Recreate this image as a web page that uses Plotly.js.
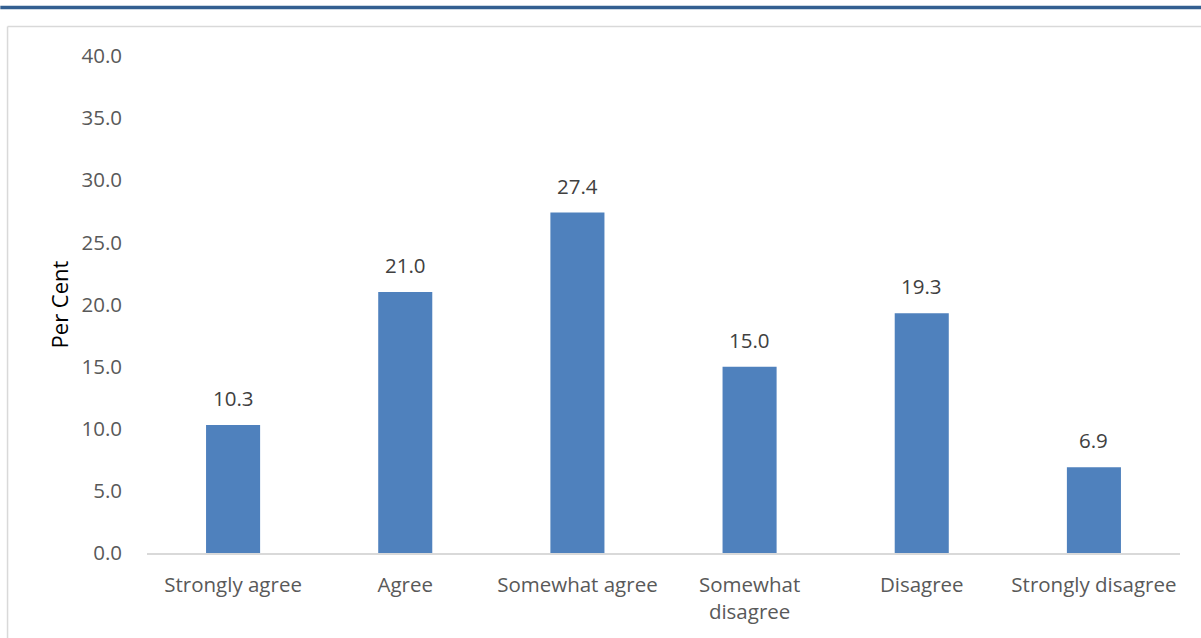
<!DOCTYPE html>
<html>
<head>
<meta charset="utf-8">
<script src="https://cdn.plot.ly/plotly-3.0.1.min.js"></script>
<style>
html,body{margin:0;padding:0;background:#fff;}
#chart{width:1201px;height:638px;}
</style>
</head>
<body>
<div id="chart"></div>
<script>
const categories = ["Strongly agree", "Agree", "Somewhat agree", "Somewhat<br>disagree", "Disagree", "Strongly disagree"];
const values = [10.3, 21.0, 27.4, 15.0, 19.3, 6.9];
const yTickVals = [0, 5, 10, 15, 20, 25, 30, 35, 40];
const yTickText = ["0.0", "5.0", "10.0", "15.0", "20.0", "25.0", "30.0", "35.0", "40.0"];

const FONT = "Open Sans, Noto Sans, sans-serif";

const trace = {
  type: "bar",
  x: categories,
  y: values,
  marker: {color: "#4f81bd"},
  hoverinfo: "skip"
};

const annotations = categories.map((c, i) => ({
  x: c, y: values[i], xref: "x", yref: "y",
  text: values[i].toFixed(1),
  showarrow: false, yanchor: "bottom", yshift: 11,
  font: {family: FONT, size: 20.5, color: "#404040"}
}));

const layout = {
  width: 1201, height: 638,
  margin: {l: 147, r: 21, t: 56, b: 84.5},
  paper_bgcolor: "#ffffff",
  plot_bgcolor: "#ffffff",
  showlegend: false,
  bargap: 0.686,
  xaxis: {
    type: "category",
    showgrid: false,
    showline: true, linecolor: "#d9d9d9", linewidth: 1.5,
    ticks: "", ticklabelstandoff: 13,
    tickfont: {family: FONT, size: 20.5, color: "#595959"},
    fixedrange: true
  },
  yaxis: {
    range: [0, 40],
    tickvals: yTickVals, ticktext: yTickText,
    showgrid: false, zeroline: false, showline: false,
    ticks: "", ticklabelstandoff: 24,
    tickfont: {family: FONT, size: 20.5, color: "#595959"},
    title: {text: "Per Cent", standoff: 6, font: {family: FONT, size: 22, color: "#000000"}},
    fixedrange: true
  },
  annotations: annotations,
  shapes: [
    {type: "line", xref: "paper", yref: "paper",
     x0: -0.142, x1: 1.03, y0: 1.0975, y1: 1.0975,
     line: {color: "#335f91", width: 3.5}},
    {type: "line", xref: "paper", yref: "paper",
     x0: -0.135, x1: 1.03, y0: 1.0593, y1: 1.0593,
     line: {color: "#d9d9d9", width: 1.5}},
    {type: "line", xref: "paper", yref: "paper",
     x0: -0.135, x1: -0.135, y0: 1.0593, y1: -0.3,
     line: {color: "#d9d9d9", width: 1.5}}
  ]
};

Plotly.newPlot("chart", [trace], layout, {displayModeBar: false, staticPlot: true});
</script>
</body>
</html>
